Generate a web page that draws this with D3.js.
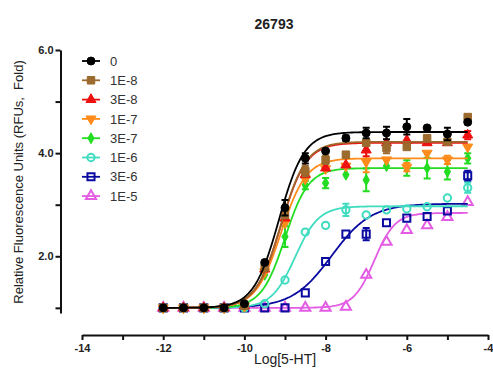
<!DOCTYPE html>
<html>
<head>
<meta charset="utf-8">
<script src="https://cdn.jsdelivr.net/npm/d3@7"></script>
<style>
  body { margin: 0; background: #fff; }
  svg { display: block; font-family: 'Liberation Sans', Arial, sans-serif; }
</style>
</head>
<body>
<div id="chart"></div>
<script>
// log[5-HT] concentrations
const logDose = [-12, -11.5, -11, -10.5, -10, -9.5, -9, -8.5, -8, -7.5, -7, -6.5, -6, -5.5, -5, -4.5];

const seriesNames = ['0', '1E-8', '3E-8', '1E-7', '3E-7', '1E-6', '3E-6', '1E-5'];
const seriesColors = ['#000000', '#9b6a2c', '#ee1111', '#ff8c1a', '#22dd22', '#3fdcc0', '#0a0aa0', '#e35ce3'];
const seriesSymbols = ['circle', 'square', 'triangle', 'triangleDown', 'diamond', 'circleOpen', 'squareOpen', 'triangleOpen'];

const values0 = [1.0, 1.0, 1.0, 1.0, 1.08, 1.88, 2.94, 3.9, 4.04, 4.29, 4.39, 4.39, 4.51, 4.49, 4.37, 4.6];
const values1E8 = [1.0, 1.0, 1.0, 1.0, 1.04, 1.78, 2.8, 3.65, 3.87, 3.97, 4.2, 4.1, 4.12, 4.29, 4.22, 4.7];
const values3E8 = [1.0, 1.0, 1.0, 1.0, 1.04, 1.75, 2.74, 3.58, 3.71, 3.77, 4.06, 4.2, 4.25, 4.2, 4.2, 4.35];
const values1E7 = [1.0, 1.0, 1.0, 1.0, 1.03, 1.7, 2.65, 3.5, 3.7, 3.75, 3.83, 3.87, 3.73, 4.0, 3.87, 4.12];
const values3E7 = [1.0, 1.0, 1.0, 1.0, 1.02, 1.64, 2.38, 3.38, 3.42, 3.58, 3.48, 3.75, 3.71, 3.71, 3.64, 3.9];
const values1E6 = [1.0, 1.0, 1.0, 1.0, 1.0, 1.08, 1.54, 2.47, 2.6, 2.9, 2.8, 2.9, 2.92, 2.96, 3.13, 3.33];
const values3E6 = [1.0, 1.0, 1.0, 1.0, 1.0, 1.0, 1.0, 1.29, 1.9, 2.43, 2.43, 2.65, 2.74, 2.77, 2.88, 3.56];
const values1E5 = [1.0, 1.0, 1.0, 1.0, 1.0, 1.0, 1.0, 1.0, 1.0, 1.02, 1.64, 2.28, 2.51, 2.6, 2.76, 3.05];

// SEM bars (0 = hidden behind marker)
const err0 = [0, 0, 0, 0, 0, 0, 0.15, 0.1, 0, 0.05, 0.1, 0.12, 0.15, 0, 0.12, 0];
const err1E8 = [0, 0, 0, 0, 0, 0, 0, 0.1, 0.08, 0, 0, 0.1, 0, 0, 0, 0];
const err3E8 = [0, 0, 0, 0, 0, 0, 0, 0, 0, 0, 0.12, 0, 0, 0, 0, 0.08];
const err1E7 = [0, 0, 0, 0, 0, 0, 0, 0, 0, 0, 0.2, 0, 0.08, 0, 0.08, 0];
const err3E7 = [0, 0, 0, 0, 0, 0, 0.2, 0.08, 0.1, 0, 0.22, 0, 0.15, 0.2, 0.15, 0.1];
const err1E6 = [0, 0, 0, 0, 0, 0, 0, 0, 0, 0.12, 0, 0, 0, 0, 0, 0.1];
const err3E6 = [0, 0, 0, 0, 0, 0, 0, 0, 0, 0, 0.12, 0, 0, 0, 0, 0.1];
const err1E5 = [0, 0, 0, 0, 0, 0, 0, 0, 0, 0, 0, 0, 0, 0, 0, 0];

// four-parameter logistic fit for each series
const fitBottom = [1.0, 1.0, 1.0, 1.0, 1.0, 1.0, 1.0, 1.0];
const fitTop = [4.41, 4.22, 4.2, 3.9, 3.71, 2.97, 3.02, 2.84];
const fitLogEC50 = [-9.15, -9.1, -9.1, -9.1, -9.0, -8.75, -7.85, -6.8];
const fitHill = [1.4, 1.4, 1.4, 1.4, 1.5, 1.5, 0.9, 1.7];

const xTicks = [-14, -13, -12, -11, -10, -9, -8, -7, -6, -5, -4];
const yTicks = [1, 2, 3, 4, 5, 6];

const allValues = [values0, values1E8, values3E8, values1E7, values3E7, values1E6, values3E6, values1E5];
const allErrors = [err0, err1E8, err3E8, err1E7, err3E7, err1E6, err3E6, err1E5];

const width = 493;
const height = 375;

const svg = d3.select('#chart').append('svg')
  .attr('width', width)
  .attr('height', height);

const xScale = d3.scaleLinear([-14, -4], [82, 488]);
const yScale = d3.scaleLinear([0.9, 6], [313, 50]);

// title
svg.append('text')
  .attr('x', 274)
  .attr('y', 29)
  .attr('text-anchor', 'middle')
  .attr('font-size', 14)
  .attr('font-weight', 'bold')
  .attr('fill', '#222')
  .text('26793');

// axes
const xAxis = svg.append('g')
  .attr('transform', 'translate(0,335)')
  .call(d3.axisBottom(xScale)
    .tickValues(xTicks)
    .tickFormat((d) => (d % 2 === 0 ? String(d) : ''))
    .tickSize(5)
    .tickPadding(4)
    .tickSizeOuter(0));

const yAxis = svg.append('g')
  .attr('transform', 'translate(60.5,0)')
  .call(d3.axisLeft(yScale)
    .tickValues(yTicks)
    .tickFormat((d) => (d % 2 === 0 ? d.toFixed(1) : ''))
    .tickSize(5)
    .tickPadding(2)
    .tickSizeOuter(0));

[xAxis, yAxis].forEach((g) => {
  g.select('.domain').attr('stroke', '#111').attr('stroke-width', 2);
  g.selectAll('.tick line').attr('stroke', '#111').attr('stroke-width', 2);
  g.selectAll('.tick text')
    .attr('font-size', 11)
    .attr('font-weight', 'bold')
    .attr('font-family', "'Liberation Sans', Arial, sans-serif")
    .attr('fill', '#222');
});

svg.append('text')
  .attr('x', 285)
  .attr('y', 364)
  .attr('text-anchor', 'middle')
  .attr('font-size', 14)
  .attr('fill', '#222')
  .text('Log[5-HT]');

svg.append('text')
  .attr('transform', 'translate(23,182) rotate(-90)')
  .attr('text-anchor', 'middle')
  .attr('font-size', 13)
  .attr('fill', '#222')
  .style('white-space', 'pre')
  .text('Relative Fluorescence Units (RFUs,  Fold)');

function symbolPath(kind) {
  const types = {
    circle: [d3.symbolCircle, 50],
    circleOpen: [d3.symbolCircle, 42],
    square: [d3.symbolSquare, 56],
    squareOpen: [d3.symbolSquare, 50],
    triangle: [d3.symbolTriangle, 44],
    triangleDown: [d3.symbolTriangle, 44],
    triangleOpen: [d3.symbolTriangle, 44],
    diamond: [d3.symbolDiamond, 34],
  };
  const [t, s] = types[kind];
  return d3.symbol(t, s)();
}

function drawMarker(g, kind, color, x, y) {
  const open = kind.endsWith('Open');
  g.append('path')
    .attr('d', symbolPath(kind))
    .attr('transform', `translate(${x},${y})${kind === 'triangleDown' ? ' rotate(180)' : ''}`)
    .attr('fill', open ? 'none' : color)
    .attr('stroke', color)
    .attr('stroke-width', open ? 2 : 1);
}

function logistic(i, x) {
  return fitBottom[i] + (fitTop[i] - fitBottom[i]) / (1 + Math.pow(10, (fitLogEC50[i] - x) * fitHill[i]));
}

const line = d3.line()
  .x((d) => xScale(d[0]))
  .y((d) => yScale(d[1]))
  .curve(d3.curveLinear);

const plot = svg.append('g');

// draw from last series to first so black ends up on top
d3.range(seriesNames.length).reverse().forEach((i) => {
  const color = seriesColors[i];
  const g = plot.append('g');

  const curvePts = [];
  for (let k = 0; k <= 150; k += 1) {
    const x = -12 + (7.5 * k) / 150;
    curvePts.push([x, logistic(i, x)]);
  }
  g.append('path')
    .datum(curvePts)
    .attr('fill', 'none')
    .attr('stroke', color)
    .attr('stroke-width', 1.8)
    .attr('d', line);

  logDose.forEach((x, j) => {
    const v = allValues[i][j];
    const e = allErrors[i][j];
    if (e > 0) {
      const px = xScale(x);
      g.append('path')
        .attr('d', `M${px},${yScale(v - e)}V${yScale(v + e)}M${px - 3.5},${yScale(v - e)}H${px + 3.5}M${px - 3.5},${yScale(v + e)}H${px + 3.5}`)
        .attr('fill', 'none')
        .attr('stroke', color)
        .attr('stroke-width', 2);
    }
  });

  logDose.forEach((x, j) => {
    drawMarker(g, seriesSymbols[i], color, xScale(x), yScale(allValues[i][j]));
  });
});

// legend
const legend = svg.append('g');
seriesNames.forEach((name, i) => {
  const y = 61 + i * 19.3;
  const color = seriesColors[i];
  legend.append('line')
    .attr('x1', 82)
    .attr('x2', 100)
    .attr('y1', y)
    .attr('y2', y)
    .attr('stroke', color)
    .attr('stroke-width', 1.8);
  drawMarker(legend, seriesSymbols[i], color, 91, y);
  legend.append('text')
    .attr('x', 110)
    .attr('y', y)
    .attr('dy', '0.36em')
    .attr('font-size', 13)
    .attr('fill', '#333')
    .text(name);
});
</script>
</body>
</html>
